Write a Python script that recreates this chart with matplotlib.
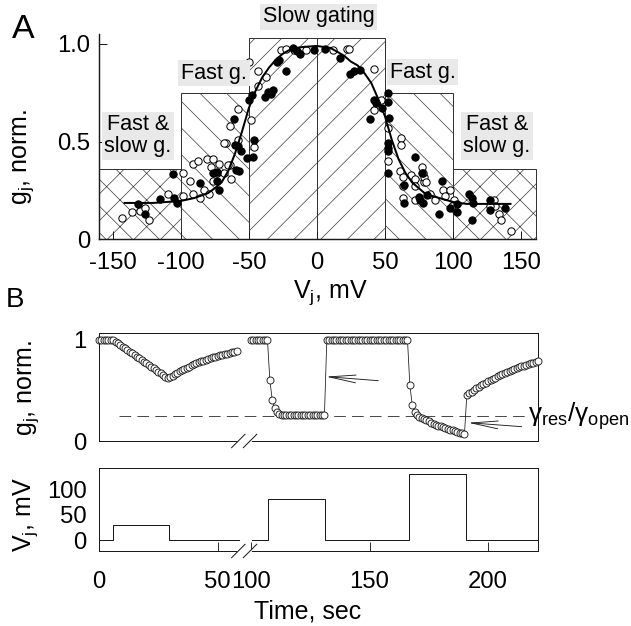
import numpy as np
import matplotlib
matplotlib.use('Agg')
import matplotlib.pyplot as plt
from matplotlib.patches import Rectangle

plt.rcParams['font.family'] = ['Liberation Sans', 'DejaVu Sans']
plt.rcParams['mathtext.fontset'] = 'custom'
plt.rcParams['mathtext.rm'] = 'Liberation Sans'
plt.rcParams['mathtext.it'] = 'Liberation Sans:italic'
plt.rcParams['axes.unicode_minus'] = False
plt.rcParams['hatch.linewidth'] = 0.6
plt.rcParams['hatch.color'] = '#222222'

# ---------------- data: panel A ----------------
zone_lo = [-160, -100, -50, 0, 50, 100]
zone_hi = [-100, -50, 0, 50, 100, 161]
zone_top = [0.357, 0.75, 1.03, 1.03, 0.75, 0.357]
zone_names = ['Fast &\nslow g.', 'Fast g.', 'Slow gating', None, 'Fast g.', 'Fast &\nslow g.']

open_v = [-143, -136, -130, -126, -123, -109, -98.5, -91, -87, -81, -76, -72,
          -78, -93, -98.5, -91, -86, -83, -79, -76, -73.5, -68, -64, -63,
          -67, -64, -58, -58, -48.6, -46, -50, -43.5, -43, -37, -26, -23,
          -17, -8, 12, 22, 24, 42, 47, 42, 52, 52, 62, 62, 61, 63, 63, 63,
          69, 72, 72, 77, 78.5, 79, 72, 77.7, 80, 83, 87, 93, 94, 98, 100.5,
          99, 130, 131, 134, 135, 143, 127.5, -65, -68]
open_g = [0.11, 0.14, 0.145, 0.16, 0.10, 0.23, 0.34, 0.385, 0.40, 0.41, 0.41, 0.385,
          0.37, 0.30, 0.22, 0.23, 0.21, 0.25, 0.23, 0.30, 0.34, 0.34, 0.38, 0.31,
          0.49, 0.58, 0.665, 0.51, 0.61, 0.47, 0.91, 0.86, 0.785, 0.83, 0.97, 0.975,
          0.97, 0.97, 0.97, 0.975, 0.975, 0.87, 0.715, 0.66, 0.57, 0.40, 0.52, 0.48,
          0.35, 0.32, 0.27, 0.21, 0.33, 0.31, 0.27, 0.37, 0.29, 0.32, 0.20, 0.34,
          0.29, 0.23, 0.20, 0.25, 0.22, 0.25, 0.20, 0.17, 0.20, 0.17, 0.13, 0.10,
          0.04, 0.17, 0.38, 0.49]

filled_v = [-131, -126, -115, -106, -105, -103, -86, -73, -72, -73.5, -59, -57.5,
            -61, -58, -56, -51.5, -47, -46.5, -50, -47.5, -38, -32, -34, -22.7,
            -29.4, -28, -17.6, -12, -2.4, 6, 16.7, 24.6, 27, 32, 41.7, 43.8,
            38.8, 48, 52, 52, 52.7, 52, 52, 52, 52, 64, 64, 72.4, 77, 75,
            78, 76, 81, 92, 89.5, 98, 103, 103, 111.5, 114, 115, 114, 127.5,
            127.5, 138.5, -60, -76, -35.5, -14.7]
filled_g = [0.18, 0.13, 0.205, 0.335, 0.21, 0.185, 0.285, 0.345, 0.25, 0.295, 0.355, 0.35,
            0.615, 0.475, 0.45, 0.415, 0.42, 0.51, 0.715, 0.74, 0.73, 0.765, 0.745, 0.86,
            0.91, 0.92, 0.98, 0.95, 0.97, 0.975, 0.93, 0.845, 0.86, 0.865, 0.715, 0.695,
            0.615, 0.67, 0.75, 0.705, 0.62, 0.49, 0.465, 0.45, 0.34, 0.275, 0.185, 0.42,
            0.34, 0.215, 0.185, 0.2, 0.225, 0.30, 0.13, 0.16, 0.14, 0.18, 0.23, 0.21,
            0.185, 0.095, 0.2, 0.15, 0.16, 0.48, 0.337, 0.755, 0.965]

fit_v = [-142, -120, -110, -100, -90, -80, -75, -70, -65, -60, -55, -50, -45, -40,
         -35, -30, -25, -20, -15, -10, 0, 10, 15, 20, 25, 30, 35, 40, 45, 50, 55,
         60, 65, 70, 75, 80, 90, 100, 110, 143]
fit_g = [0.185, 0.185, 0.19, 0.195, 0.21, 0.235, 0.26, 0.29, 0.35, 0.44, 0.55, 0.67,
         0.76, 0.83, 0.88, 0.92, 0.95, 0.97, 0.98, 0.985, 0.99, 0.98, 0.96, 0.94,
         0.91, 0.89, 0.85, 0.80, 0.72, 0.63, 0.51, 0.41, 0.34, 0.29, 0.26, 0.23,
         0.21, 0.19, 0.18, 0.18]

a_xticks = [-150, -100, -50, 0, 50, 100, 150]
a_xticklabels = ['-150', '-100', '-50', '0', '50', '100', '150']
a_yticks = [0, 0.5, 1.0]
a_yticklabels = ['0', '0.5', '1.0']

# ---------------- data: panel B ----------------
g_left_t0 = 0      # first sample time, s (1 s sampling)
g_left = [1.0, 1.0, 1.0, 1.0, 1.0, 1.0, 1.0,
          0.983, 0.967, 0.95, 0.934, 0.917, 0.901, 0.884, 0.868, 0.851, 0.835, 0.818,
          0.802, 0.785, 0.769, 0.752, 0.736, 0.719, 0.703, 0.686, 0.67, 0.653, 0.637, 0.62,
          0.631, 0.646, 0.661, 0.675, 0.688, 0.701, 0.714, 0.726, 0.737, 0.748, 0.758,
          0.768, 0.778, 0.787, 0.796, 0.804, 0.812, 0.82, 0.827, 0.835, 0.842, 0.848,
          0.854, 0.86, 0.866, 0.872, 0.877, 0.882, 0.887]
g_right_t0 = 100
g_right = [1.0, 1.0, 1.0, 1.0, 1.0, 1.0, 1.0, 1.0,
           0.60, 0.41, 0.33, 0.285, 0.265,
           0.255, 0.255, 0.255, 0.255, 0.255, 0.255, 0.255, 0.255, 0.255, 0.255,
           0.255, 0.255, 0.255, 0.255, 0.255, 0.255, 0.255, 0.255, 0.255,
           1.0, 1.0, 1.0, 1.0, 1.0, 1.0, 1.0, 1.0, 1.0, 1.0, 1.0, 1.0, 1.0, 1.0, 1.0,
           1.0, 1.0, 1.0, 1.0, 1.0, 1.0, 1.0, 1.0, 1.0, 1.0, 1.0, 1.0, 1.0, 1.0, 1.0,
           1.0, 1.0, 1.0, 1.0, 1.0,
           0.55, 0.36, 0.29, 0.255, 0.24, 0.228, 0.216, 0.205, 0.194, 0.183, 0.173,
           0.163, 0.153, 0.144, 0.135, 0.127, 0.119, 0.111, 0.104, 0.097, 0.09, 0.083,
           0.076, 0.065,
           0.455, 0.472, 0.489, 0.505, 0.52, 0.535, 0.55, 0.564, 0.578, 0.591, 0.604,
           0.616, 0.628, 0.64, 0.651, 0.662, 0.672, 0.683, 0.693, 0.702, 0.712, 0.721,
           0.73, 0.738, 0.746, 0.754, 0.762, 0.769, 0.777, 0.784, 0.79]
g_ratio = 0.25            # gamma_res / gamma_open level
g_ratio_span = [8.6, 216.2]

v_left_t = [0, 6, 6, 29.7, 29.7, 58.8]
v_left = [0, 0, 30, 30, 0, 0]
v_right_t = [100.3, 107.4, 107.4, 131.4, 131.4, 166.5, 166.5, 190.7, 190.7, 221]
v_right = [0, 0, 80, 80, 0, 0, 130, 130, 0, 0]

arrow1 = [(131.7, 0.637), (153.7, 0.597)]   # tip, tail
arrow2 = [(191.6, 0.181), (214.1, 0.142)]

b_xticks = [0, 50, 100, 150, 200]
b_xticklabels = ['0', '50', '100', '150', '200']
b_top_yticks = [0, 1]
b_bot_yticks = [0, 50, 100]

# ---------------- figure ----------------
DPI = 80
W, H = 631, 626
fig = plt.figure(figsize=(W / DPI, H / DPI), dpi=DPI)


def px_axes(l, t, r, b):
    return fig.add_axes([l / W, 1 - b / H, (r - l) / W, (b - t) / H])


TICK_FS = 21.5
LABEL_FS = 22.5
NOTE_FS = 19.5
INK = '#1a1a1a'
GRAY_BG = '#e9e9e9'

# ---------------- panel A ----------------
axA = px_axes(99, 34.25, 536, 239)
axA.set_xlim(-160, 161)
axA.set_ylim(0, 1.05)
hatch_styles = ['x', '\\', '/', '/', '\\', 'x']
for lo, hi, top, hs in zip(zone_lo, zone_hi, zone_top, hatch_styles):
    axA.add_patch(Rectangle((lo, 0), hi - lo, top, facecolor='white',
                            edgecolor='#333333', linewidth=0.9, hatch=hs,
                            zorder=1, clip_on=False))
axA.plot(fit_v, fit_g, color='black', lw=1.8, zorder=4, solid_capstyle='butt')
axA.plot(open_v, open_g, 'o', ms=6.6, mfc='white', mec='black', mew=0.9, zorder=3)
axA.plot(filled_v, filled_g, 'o', ms=6.6, mfc='black', mec='black', mew=0.9, zorder=3)

note_pos = {0: (-131.3, 0.53), 1: (-75.5, 0.85), 2: (1.3, 1.14),
            4: (77.7, 0.856), 5: (132.4, 0.53)}
for i, name in enumerate(zone_names):
    if name is None:
        continue
    x, y = note_pos[i]
    axA.text(x, y, name, ha='center', va='center', fontsize=NOTE_FS,
             multialignment='center', linespacing=1.05, zorder=5, clip_on=False,
             bbox=dict(boxstyle='square,pad=0.12', facecolor=GRAY_BG, edgecolor='none'))

for s in ['top', 'right']:
    axA.spines[s].set_visible(False)
for s in ['left', 'bottom']:
    axA.spines[s].set_linewidth(1.3)
    axA.spines[s].set_color(INK)
axA.set_xticks(a_xticks)
axA.set_xticklabels(a_xticklabels)
axA.set_yticks(a_yticks)
axA.set_yticklabels(a_yticklabels)
axA.tick_params(axis='both', direction='in', length=7, width=0.9, color=INK,
                labelsize=TICK_FS)
axA.tick_params(axis='x', pad=12)
axA.tick_params(axis='y', pad=8)

# ---------------- panel B ----------------
def fwd(t):
    t = np.asarray(t, dtype=float)
    return np.where(t < 60, t, np.where(t < 100, 60 + (t - 60) * 0.1, t - 36))


def inv(u):
    u = np.asarray(u, dtype=float)
    return np.where(u < 60, u, np.where(u < 64, 60 + (u - 60) * 10, u + 36))


axB1 = px_axes(99, 332.7, 538, 441)
axB2 = px_axes(99, 468.3, 538, 551)
for ax in (axB1, axB2):
    ax.set_xscale('function', functions=(fwd, inv))
    ax.set_xlim(0, 221)
    for s in ax.spines.values():
        s.set_linewidth(0.9)
        s.set_color(INK)

t_left = g_left_t0 + np.arange(len(g_left))
t_right = g_right_t0 + np.arange(len(g_right))
axB1.plot(g_ratio_span, [g_ratio, g_ratio], color=INK, lw=0.7,
          linestyle=(0, (15, 8)), zorder=2)
for tt, gg in ((t_left, g_left), (t_right, g_right)):
    axB1.plot(tt, gg, '-o', color=INK, lw=0.7, ms=6.3, mfc='white', mec=INK,
              mew=0.8, zorder=3, clip_on=False)
axB1.set_ylim(0, 1.072)
axB1.set_xticks([])
axB1.set_yticks(b_top_yticks)
axB1.set_yticklabels([str(v) for v in b_top_yticks])
axB1.tick_params(axis='y', length=0, labelsize=TICK_FS, pad=11)
axB1.minorticks_off()

for tip, tail in (arrow1, arrow2):
    axB1.annotate('', xy=tip, xytext=tail,
                  arrowprops=dict(arrowstyle='->,head_length=2.4,head_width=0.35',
                                  lw=0.8, color=INK, shrinkA=0, shrinkB=0,
                                  mutation_scale=10), zorder=5)
axB1.text(216.8, g_ratio, r'$\mathrm{\gamma}_{\mathrm{res}}/\mathrm{\gamma}_{\mathrm{open}}$',
          ha='left', va='center', fontsize=23.5, clip_on=False, zorder=6)

axB2.plot(v_left_t, v_left, color=INK, lw=0.9)
axB2.plot(v_right_t, v_right, color=INK, lw=0.9)
axB2.set_ylim(-21, 141)
axB2.set_xticks(b_xticks)
axB2.set_xticklabels(b_xticklabels)
axB2.set_yticks(b_bot_yticks)
axB2.set_yticklabels([str(v) for v in b_bot_yticks])
axB2.minorticks_off()
axB2.tick_params(axis='x', direction='in', length=8, width=0.8, color=INK,
                 labelsize=TICK_FS, pad=18)
axB2.tick_params(axis='y', direction='in', length=0, labelsize=TICK_FS, pad=11)
axB2.set_yticks([100], minor=True)
axB2.tick_params(axis='y', which='minor', direction='in', length=7, width=0.8,
                 color=INK)

# break marks on the time axis
for ax, hpx in ((axB1, 108.3), (axB2, 82.7)):
    dx = 6.7 / 439
    dy = 6.7 / hpx
    ax.plot([0.3173, 0.344], [0, 0], color='white', lw=2.5,
            transform=ax.transAxes, clip_on=False, zorder=6)
    for xc in (0.3173, 0.344):
        ax.plot([xc - dx, xc + dx], [-dy, dy], color=INK, lw=0.9,
                transform=ax.transAxes, clip_on=False, zorder=7)

# ---------------- labels ----------------
fig.text(24 / W, 1 - 156.7 / H, r'g$_\mathrm{j}$, norm.', rotation=90,
         ha='center', va='center', fontsize=LABEL_FS)
fig.text(28.5 / W, 1 - 387.7 / H, r'g$_\mathrm{j}$, norm.', rotation=90,
         ha='center', va='center', fontsize=LABEL_FS)
fig.text(26 / W, 1 - 515 / H, r'V$_\mathrm{j}$, mV', rotation=90,
         ha='center', va='center', fontsize=LABEL_FS)
fig.text(330.5 / W, 1 - 298 / H, r'V$_\mathrm{j}$, mV', ha='center',
         va='baseline', fontsize=LABEL_FS)
fig.text(307.5 / W, 1 - 618 / H, 'Time, sec', ha='center', va='baseline',
         fontsize=LABEL_FS)
fig.text(12 / W, 1 - 38.3 / H, 'A', ha='left', va='baseline', fontsize=30.5)
fig.text(6 / W, 1 - 306.7 / H, 'B', ha='left', va='baseline', fontsize=25)

fig.savefig('out.png', dpi=DPI)
